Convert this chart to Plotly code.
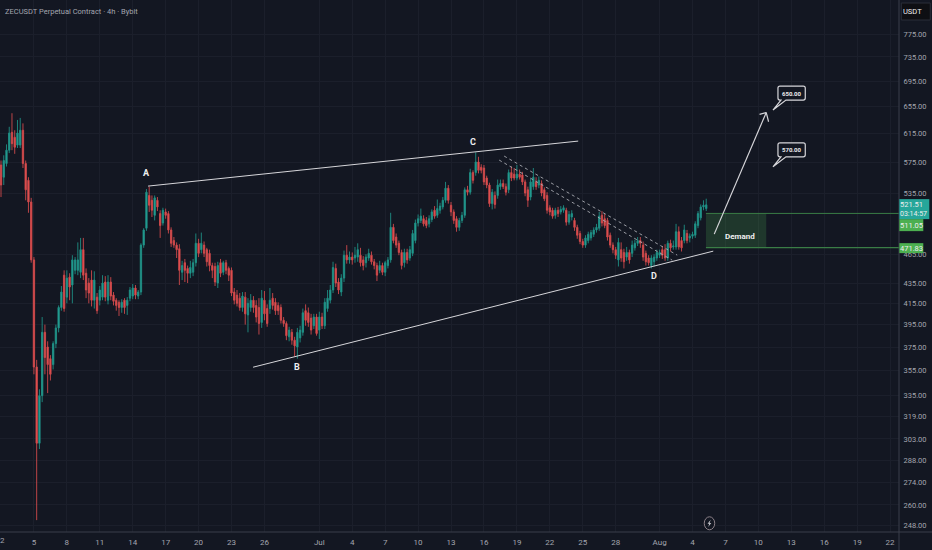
import pandas as pd
import plotly.graph_objects as go

# Candles (about one per 6h, too fine to resolve 4h)
opens = [
    572,556,574,592,617,610,599,599,620,574, 552,525,459,358,300,335,388,375,365,360,
    378,392,411,443,421,441,433,448,448,446, 470,445,435,438,418,421,418,421,436,418,
    436,423,418,416,411,418,413,420,422,430, 422,426,475,494,533,527,509,527,511,500,
    513,511,492,480,475,471,446,456,450,445, 446,456,477,470,475,470,466,453,452,435,
    456,446,456,450,448,426,423,420,411,421, 404,411,418,413,411,397,418,410,410,420,
    416,413,411,399,396,384,388,381,375,383, 388,408,406,401,394,402,390,402,394,410,
    418,428,450,436,426,440,464,459,462,461, 462,464,459,456,461,464,457,453,448,453,
    446,453,459,495,484,477,467,456,467,461, 466,480,500,503,505,503,499,504,515,509,
    515,519,527,542,521,513,505,495,503,509, 540,537,562,562,576,569,568,555,546,523,
    533,533,544,548,544,540,562,560,555,560, 559,550,540,531,544,550,546,548,540,533,
    518,515,509,515,513,515,515,501,507,503, 495,488,479,475,480,483,487,492,494,509,
    505,503,486,475,470,459,470,467,462,467, 466,472,477,480,475,466,461,453,457,461,
    464,470,470,461,477,473,473,490,480,480, 488,483,485,486,497,506,519,517,
]
highs = [
    578,585,600,625,645,620,635,638,630,578, 556,530,462,364,340,402,395,380,368,380,
    395,413,432,448,448,445,464,462,478,483, 483,450,440,448,447,425,432,443,442,443,
    441,426,420,418,419,420,421,431,434,433, 428,477,494,541,544,533,533,531,515,518,
    517,514,495,484,478,476,458,460,453,458, 460,488,482,489,479,472,470,456,456,457,
    460,458,459,452,451,430,428,425,426,426, 420,424,422,418,420,428,427,414,430,425,
    420,416,414,402,398,393,391,384,392,394, 410,414,411,405,405,405,407,406,420,428,
    433,457,455,440,444,469,475,468,467,473, 477,472,463,465,471,468,460,456,458,456,
    458,462,512,499,488,480,470,471,471,474, 492,504,510,517,509,507,509,516,520,528,
    524,531,550,546,525,516,508,506,513,543, 545,567,565,589,583,573,572,558,549,541,
    538,553,553,553,548,566,570,568,572,566, 563,553,544,554,568,556,557,552,543,537,
    521,518,518,519,520,521,518,514,515,506, 498,491,482,486,490,492,495,499,513,514,
    511,506,489,478,473,483,478,471,473,470, 480,481,484,484,479,469,464,464,465,470,
    470,474,476,480,481,480,499,496,484,498, 492,488,490,502,514,522,527,529,
]
lows = [
    531,546,570,588,592,587,595,595,568,527, 512,456,352,251,296,330,352,337,347,356,
    374,388,408,407,415,418,415,444,443,440, 438,420,415,412,410,405,413,418,417,414,
    418,413,408,403,406,405,404,417,419,419, 419,423,472,491,513,507,503,514,483,497,
    505,488,473,472,461,433,438,436,435,440, 442,452,462,466,462,452,447,440,432,430,
    441,443,444,437,422,414,412,408,407,395, 388,407,406,397,386,392,399,393,405,409,
    404,404,396,393,381,380,377,367,365,379, 385,394,393,386,391,385,382,391,391,407,
    415,425,431,424,422,436,455,455,454,456, 457,452,448,451,458,454,449,437,445,443,
    442,450,456,477,472,464,449,451,455,458, 463,477,496,500,496,494,495,501,505,506,
    511,516,524,523,508,499,490,491,500,506, 533,534,548,558,561,561,546,542,519,516,
    517,529,540,541,533,536,551,552,552,553, 546,532,519,527,540,540,542,532,526,511,
    509,505,505,507,510,512,497,498,503,491, 482,476,472,472,477,480,484,489,491,496,
    494,480,472,466,460,452,457,450,458,455, 462,469,474,472,458,453,453,450,452,458,
    461,460,458,458,468,470,470,470,468,477, 477,478,482,483,494,503,515,514,
]
closes = [
    546,578,592,616,601,596,616,620,574,540, 525,459,358,300,335,388,366,360,352,378,
    392,411,426,410,440,431,459,459,459,470, 443,428,425,418,438,408,428,435,421,436,
    422,417,413,411,416,411,418,428,430,423, 426,475,492,537,521,515,530,519,497,515,
    509,492,477,475,470,448,453,448,445,451, 456,477,466,477,466,457,453,448,436,453,
    445,456,448,443,425,418,415,411,422,405, 415,418,411,402,396,420,405,396,418,413,
    408,408,399,396,385,390,381,376,388,390, 406,399,397,390,402,387,402,394,416,420,
    428,451,435,428,440,464,459,462,459,464, 470,456,453,462,466,457,453,443,453,446,
    456,459,495,480,475,467,453,467,459,470, 488,500,505,508,499,497,505,513,508,517,
    520,527,542,527,513,503,495,503,509,540, 537,562,552,576,565,565,550,546,523,537,
    522,546,548,544,537,562,555,555,560,556, 550,536,527,550,556,544,552,536,529,515,
    513,508,515,511,516,518,501,510,511,495, 486,479,475,483,487,489,492,495,508,500,
    497,484,475,470,464,478,461,457,467,459, 475,477,480,477,462,457,456,461,462,467,
    467,464,461,477,472,474,490,473,472,492, 480,485,487,499,511,519,521,521.51,
]
dates = pd.date_range("2026-06-02", periods=len(closes), freq="6h")

price_ticks = [248, 260, 274, 288, 303, 319, 335, 355, 375, 395, 415, 435, 465, 535, 575, 615, 655, 695, 735, 775]
date_ticks = ["2026-06-05", "2026-06-08", "2026-06-11", "2026-06-14", "2026-06-17", "2026-06-20",
              "2026-06-23", "2026-06-26", "2026-07-01", "2026-07-04", "2026-07-07", "2026-07-10", "2026-07-13",
              "2026-07-16", "2026-07-19", "2026-07-22", "2026-07-25", "2026-07-28", "2026-08-01", "2026-08-04",
              "2026-08-07", "2026-08-10", "2026-08-13", "2026-08-16", "2026-08-19", "2026-08-22"]
date_labels = ["5", "8", "11", "14", "17", "20", "23", "26", "Jul", "4", "7", "10", "13", "16", "19", "22", "25",
               "28", "Aug", "4", "7", "10", "13", "16", "19", "22"]

BG = "#131722"
GRID = "#1b1f2b"
AXIS = "#3a3e4a"
TEXT = "#a3a6af"
WHITE = "#d6d6da"
GREEN = "#4caf50"
FONT = "Roboto, sans-serif"

# plot area in window pixels, drawings are placed with these
PW = 898.7
PH = 531.7


def X(px):
    return px / PW


def Y(py):
    return 1 - py / PH


def line(fig, x0, y0, x1, y1, color=WHITE, width=1, dash="solid"):
    fig.add_shape(type="line", xref="paper", yref="paper", x0=X(x0), y0=Y(y0), x1=X(x1), y1=Y(y1),
                  line=dict(color=color, width=width, dash=dash))


def rect(fig, x0, y0, x1, y1, fill, color=None):
    fig.add_shape(type="rect", xref="paper", yref="paper", x0=X(x0), y0=Y(y0), x1=X(x1), y1=Y(y1),
                  fillcolor=fill, line=dict(color=color or fill, width=1 if color else 0))


def label(fig, px, py, text, size=7.5, color="#eeeeef", anchor="center", bold=False):
    fig.add_annotation(xref="paper", yref="paper", x=X(px), y=Y(py), text=f"<b>{text}</b>" if bold else text,
                       showarrow=False, xanchor=anchor, yanchor="middle", align="center",
                       font=dict(size=size, color=color, family=FONT), borderpad=0)


def callout(fig, x0, y0, x1, y1, tx, ty, text):
    r = 2
    x_a, x_b = x0 + 3, x0 + 8
    pts = [("M", x0 + r, y0), ("L", x1 - r, y0), ("Q", x1, y0, x1, y0 + r), ("L", x1, y1 - r),
           ("Q", x1, y1, x1 - r, y1), ("L", x_b, y1), ("L", tx, ty), ("L", x_a, y1), ("L", x0 + r, y1),
           ("Q", x0, y1, x0, y1 - r), ("L", x0, y0 + r), ("Q", x0, y0, x0 + r, y0)]
    path = ""
    for p in pts:
        coords = []
        for k in range(1, len(p), 2):
            coords.append(f"{X(p[k]):.5f},{Y(p[k + 1]):.5f}")
        path += p[0] + " ".join(coords) + " "
    fig.add_shape(type="path", xref="paper", yref="paper", path=path + "Z", fillcolor=BG,
                  line=dict(color=WHITE, width=1.2))
    label(fig, (x0 + x1) / 2, (y0 + y1) / 2, text, size=6, bold=True)


fig = go.Figure()

fig.add_trace(go.Candlestick(
    x=dates, open=opens, high=highs, low=lows, close=closes,
    increasing=dict(line=dict(color="#1f8f85", width=0.9), fillcolor="#26a69a"),
    decreasing=dict(line=dict(color="#cf4a4c", width=0.9), fillcolor="#ef5350"),
    whiskerwidth=0, hoverinfo="skip", showlegend=False,
))

# Trend lines and wave labels
line(fig, 148, 186, 578, 141)
line(fig, 253, 367, 713, 251)
line(fig, 504, 156, 677, 255, color="#a9abb2", width=0.9, dash="3px,3px")
line(fig, 499, 160, 672, 260, color="#a9abb2", width=0.9, dash="3px,3px")
label(fig, 146, 172.7, "A", size=9, bold=True)
label(fig, 297.3, 366.7, "B", size=9, bold=True)
label(fig, 473, 141.7, "C", size=9, bold=True)
label(fig, 653.7, 276, "D", size=9, bold=True)

# Demand zone
rect(fig, 705.7, 213.3, 766, 247.5, "rgba(76,175,80,0.22)")
line(fig, 705.7, 213.3, 899, 213.3, color="#3a7d46", width=1)
line(fig, 705.7, 247.5, 899, 247.5, color="#3a7d46", width=1.2)
label(fig, 740, 236, "Demand", size=8, bold=True)

# Projected move
line(fig, 714, 234, 766, 112.5, width=1.2)
line(fig, 766, 112.5, 759.3, 114.3, width=1.2)
line(fig, 766, 112.5, 768.3, 121.7, width=1.2)

callout(fig, 777.7, 86, 805, 100, 772.7, 110, "650.00")
callout(fig, 777.7, 142.7, 805, 156.7, 772.7, 166.7, "570.00")

# Axis frame
line(fig, 898.7, 0, 898.7, 550, color=AXIS, width=1)
line(fig, 0, 531.7, 932, 531.7, color=AXIS, width=1)

# Price tags
rect(fig, 899, 219, 923, 231, GREEN)
rect(fig, 899, 243, 923, 253, GREEN)
rect(fig, 899, 199, 929, 219, "#26a69a")
label(fig, 911, 225, "511.05")
label(fig, 911, 248, "471.83")
label(fig, 911, 204.5, "521.51")
label(fig, 913.5, 213.5, "03:14:57", size=7)

rect(fig, 901, 3, 930, 20, "#0e0f13", color="#2a2e39")
label(fig, 912, 11.5, "USDT")

label(fig, 4, 11, "ZECUSDT Perpetual Contract · 4h · Bybit", size=7.5, color=TEXT, anchor="left")
# first date tick sits on the plot edge, plotly drops it
label(fig, 2, 540, "2", size=8, color=TEXT)

# Lightning marker
fig.add_shape(type="circle", xref="paper", yref="paper", x0=X(704), y0=Y(516.5), x1=X(714.5), y1=Y(529.5),
              fillcolor=BG, line=dict(color="#8d8289", width=1))
bolt = [(710.5, 519.5), (707.3, 523.5), (709, 523.5), (708, 526.8), (711, 522.6), (709.3, 522.6)]
fig.add_shape(type="path", xref="paper", yref="paper", fillcolor="#c9cad0", line=dict(width=0),
              path="M" + " L".join(f"{X(a):.5f},{Y(b):.5f}" for a, b in bolt) + " Z")

fig.update_layout(
    width=932, height=550,
    margin=dict(l=0, r=932 - PW, t=0, b=550 - PH, pad=0),
    paper_bgcolor=BG, plot_bgcolor=BG,
    showlegend=False, hovermode=False, dragmode=False,
    font=dict(family=FONT, size=8, color=TEXT),
    xaxis=dict(
        type="date", range=["2026-06-01 21:48", "2026-08-22 19:30"], rangeslider=dict(visible=False),
        tickmode="array", tickvals=date_ticks, ticktext=date_labels, tickangle=0,
        showgrid=True, gridcolor=GRID, gridwidth=1, zeroline=False, showline=False,
        ticks="outside", ticklen=2, tickcolor="rgba(0,0,0,0)",
        tickfont=dict(size=8, color=TEXT, family=FONT),
    ),
    yaxis=dict(
        type="log", side="right", range=[2.3877, 2.9236],
        tickmode="array", tickvals=price_ticks, ticktext=[f"{v:.2f}" for v in price_ticks],
        showgrid=True, gridcolor=GRID, gridwidth=1, zeroline=False, showline=False,
        ticks="outside", ticklen=2, tickcolor="rgba(0,0,0,0)",
        tickfont=dict(size=7.5, color=TEXT, family=FONT),
    ),
)

fig.write_html("out.html", config={"displayModeBar": False},
               post_script="document.body.style.margin='0';document.body.style.background='#131722';")
